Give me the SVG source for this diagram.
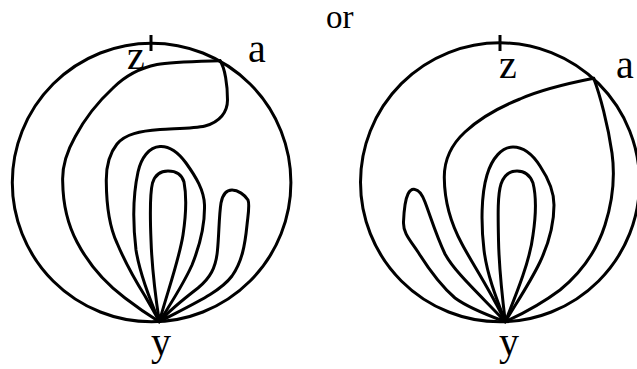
<svg xmlns="http://www.w3.org/2000/svg" width="637" height="369" viewBox="0 0 637 369">
<style>
.ln{fill:none;stroke:#000;stroke-width:3;stroke-linejoin:round;stroke-linecap:round}
.lb{font-family:'Liberation Serif',serif;font-size:40px;fill:#000}
.or{font-family:'Liberation Serif',serif;font-size:33px;fill:#000}
</style>
<rect width="637" height="369" fill="#fff"/>
<text class="or" x="326" y="27.5" font-family="Liberation Serif">or</text>
<g id="left">
<circle class="ln" cx="151.6" cy="182.5" r="139.3"/>
<line class="ln" x1="151" y1="35" x2="151" y2="51" style="stroke-linecap:butt"/>
<text class="lb" x="127" y="69" font-family="Liberation Serif">z</text>
<text class="lb" x="248" y="61.5" font-family="Liberation Serif">a</text>
<text class="lb" x="151" y="355" font-family="Liberation Serif">y</text>
<g id="left-curves">
<path class="ln" d="M220,60.7 C195,61.5 170,62 157,64.5 C140,68 125,76 113,88 C100,100 85,118 75,137 C66,153 62,168 62.7,182 C63,205 68,225 77,242 C88,263 105,283 125,298 C138,308 150,316 159.3,321.7"/>
<path class="ln" d="M220,60.7 C225,68 227.5,85 227.5,100 C227.5,112 220,122 205,126 C195,128.5 175,128.5 160,129.5 C140,131 125,134 117,144 C109,154 106,168 106.3,182 C106.5,205 110,228 117,243 C125,262 135,280 145,296 C150,305 155,313 159.3,321.7"/>
<path class="ln" d="M159.3,321.7 C150,300 140,275 136,250 C133,225 133,195 138,172 C141,158 149,147 160,146.5 C170,146 178,152 186,163 C196,177 204,190 204.5,205 C205,225 200,245 192,265 C183,285 170,305 159.3,321.7"/>
<path class="ln" d="M159.3,321.7 C156,300 152,270 151,240 C150,215 149.5,195 152.5,183 C155,175 161,171 168,171 C176,171 182,175 184,182 C186.5,195 186,215 183,235 C179,260 168,290 159.3,321.7"/>
<path class="ln" d="M159.3,321.7 C170,310 185,298 198,288 C210,278 216,268 217.5,250 C219,235 219,215 221,203 C222.5,195 226,190 232,190 C238,190 245,195 248,200 C250,205 248,215 247,225 C245,245 242,262 232,276 C220,292 195,303 159.3,321.7"/>
</g>
</g>
<g id="right">
<circle class="ln" cx="500" cy="182.3" r="139.5"/>
<line class="ln" x1="500" y1="35" x2="500" y2="51" style="stroke-linecap:butt"/>
<text class="lb" x="499" y="78" font-family="Liberation Serif">z</text>
<text class="lb" x="616" y="78" font-family="Liberation Serif">a</text>
<text class="lb" x="499" y="355" font-family="Liberation Serif">y</text>
<g id="right-curves">
<path class="ln" d="M593.7,78.3 C575,82 545,88 520,99 C500,107 480,118 465,132 C452,144 444,158 444.3,178 C444.5,200 450,222 462,244 C472,263 490,290 505.3,321.7"/>
<path class="ln" d="M593.7,78.3 C600,95 608,125 612,153 C615,175 613,200 605,225 C597,250 582,272 560,290 C540,305 520,315 505.3,321.7"/>
<path class="ln" d="M505.3,321.7 C497,300 487,275 484,250 C481,225 481,195 487,175 C492,158 502,147 513,147 C524,147 533,155 540,166 C548,178 554,190 554,205 C554,225 548,245 540,262 C530,283 515,305 505.3,321.7"/>
<path class="ln" d="M505.3,321.7 C502,295 499,265 498.5,240 C498,215 497.5,195 501,184 C504,175 510,171 517,171 C524,171 530,175 533,183 C536,195 536,215 533,235 C530,260 518,290 505.3,321.7"/>
<path class="ln" d="M505.3,321.7 C490,316 470,309 455,298 C440,285 428,268 418,252 C410,240 403,233 403.5,222 C404,210 405,200 408,194 C410,190 413,189 415,189.5 C419,190 422,194 425,202 C430,215 436,235 445,254 C455,272 475,290 505.3,321.7"/>
</g>
</g>
</svg>
